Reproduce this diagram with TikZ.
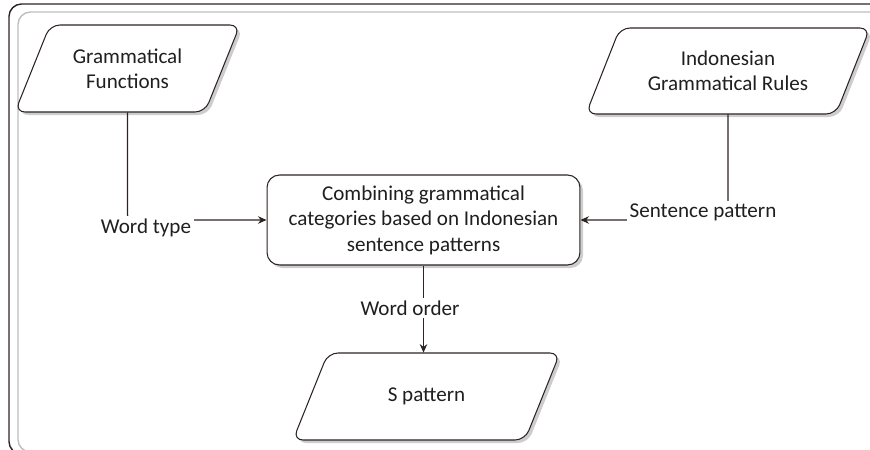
\documentclass[tikz,border=0pt]{standalone}
\usepackage{fontspec}
\setmainfont{Carlito}
\usetikzlibrary{arrows.meta,calc}
\definecolor{ln}{RGB}{45,35,35}
\definecolor{shd}{RGB}{205,205,205}
\newcommand{\mypg}[5]{%
  \fill[shadowfill] (#1+3,#2+3) -- (#1+#3+3,#2+3) -- (#1+#3-#5+3,#2+#4+3) -- (#1-#5+3,#2+#4+3) -- cycle;
  \path[outline] (#1,#2) -- (#1+#3,#2) -- (#1+#3-#5,#2+#4) -- (#1-#5,#2+#4) -- cycle;}
\begin{document}
\begin{tikzpicture}[x=0.02cm,y=-0.02cm,
  font=\fontsize{12}{14.5}\selectfont,
  shapebox/.style={align=center, inner sep=0pt, text=black!88},
  conn/.style={draw=ln, line width=0.6pt},
  arr/.style={conn, -{Stealth[length=1.7mm,width=1.5mm]}},
  lbl/.style={fill=white, inner sep=1.5pt, text=black!88},
  outline/.style={draw=ln, line width=0.6pt, fill=white, rounded corners=0.2cm},
  shadowfill/.style={fill=shd, rounded corners=0.2cm}
]
\useasboundingbox (0,0) rectangle (870,450);
\clip (0,0) rectangle (870,450);
% frame
\draw[ln, line width=0.8pt, rounded corners=0.25cm] (9,4) rectangle (900,454);
\draw[black!25, line width=0.8pt, rounded corners=0.25cm] (18,12) rectangle (895,452);
% parallelograms
\mypg{50}{25}{190}{87}{35}
\mypg{620}{28}{250}{86}{34}
\mypg{328}{353}{232}{87}{35}
\node[shapebox, minimum width=3.8cm, minimum height=1.74cm] (gf) at (127.5,68.5) {Grammatical\\Functions};
\node[shapebox, minimum width=5cm, minimum height=1.72cm] (igr) at (728,71) {Indonesian\\Grammatical Rules};
\node[shapebox, minimum width=4.64cm, minimum height=1.74cm] (sp) at (426.5,396.5) {S pattern};
% central box
\fill[shadowfill, rounded corners=0.25cm] (270,178) rectangle (583,268);
\node[outline, shapebox, rounded corners=0.25cm, minimum width=6.26cm, minimum height=1.8cm] (box) at (423.5,220) {Combining grammatical\\categories based on Indonesian\\sentence patterns};
% connectors
\draw[arr, rounded corners=0.1cm] (gf.south) |- (box.west);
\node[lbl] (wt) at (146,228) {Word type};
\draw[arr, rounded corners=0.1cm] (igr.south) |- (box.east);
\node[lbl] (spl) at (703,212) {Sentence pattern};
\draw[arr] (box.south) -- (box.south |- sp.north);
\node[lbl] (wo) at (410,308) {Word order};
\end{tikzpicture}
\end{document}
